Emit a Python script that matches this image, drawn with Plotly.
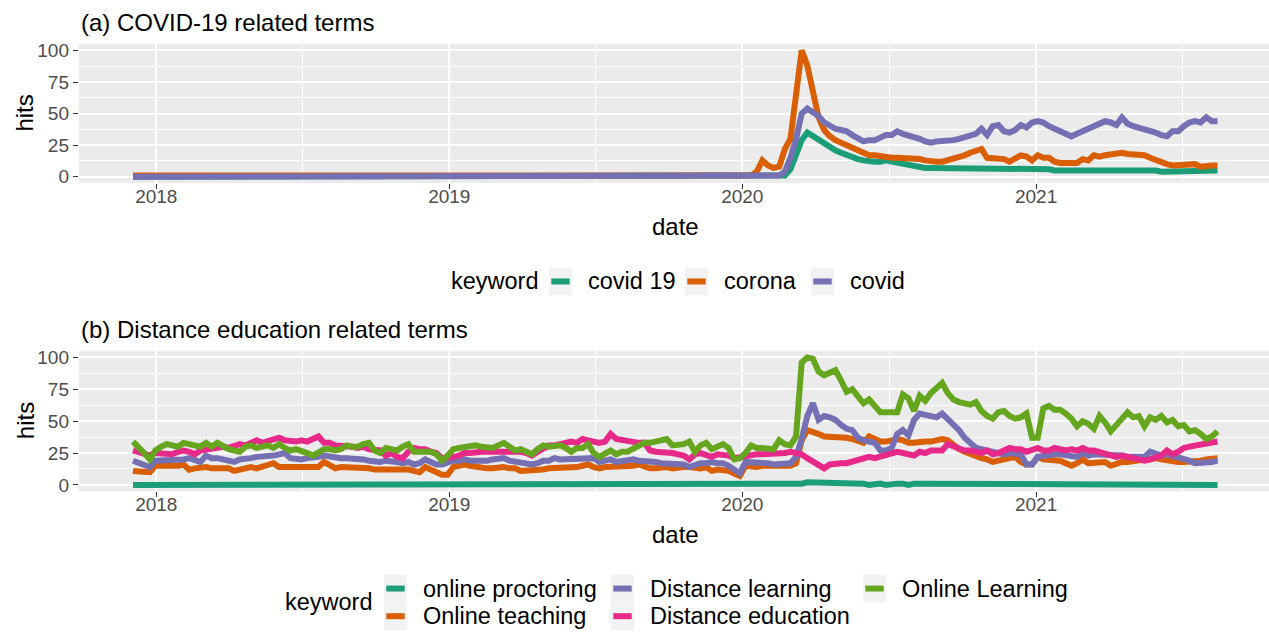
import pandas as pd
import plotly.graph_objects as go

W, H = 1269, 635

# Weekly observation dates (Sundays)
weeks = pd.date_range("2017-12-03", "2021-08-15", freq="7D")

# ---- (a) COVID-19 related terms ----
covid19 = [
    0, 0, 0, 0, 0, 0, 0, 0, 0, 0,
    0, 0, 0, 0, 0, 0, 0, 0, 0, 0,
    0, 0, 0, 0, 0, 0, 0, 0, 0, 0,
    0, 0, 0, 0, 0, 0, 0, 0, 0, 0,
    0, 0, 0, 0, 0, 0, 0, 0, 0, 0,
    0, 0, 0, 0, 0, 0, 0, 0, 0, 0,
    0, 0, 0, 0, 0, 0, 0, 0, 0, 0,
    0, 0, 0, 0, 0, 0, 0, 0, 0, 0,
    0, 0, 0, 0, 0, 0, 0, 0, 0, 0,
    0, 0, 0, 0, 0, 0, 0, 0, 0, 0,
    0, 0, 0, 0, 0, 0, 0, 0, 0, 0,
    0, 0, 0, 0, 0, 0, 1, 6, 18, 29,
    35, 32, 29, 26, 23, 21, 19, 17, 16, 14,
    13, 12, 12, 12, 13, 12, 11, 10, 9, 8,
    8, 7, 7, 7, 7, 7, 7, 7, 7, 7,
    7, 7, 7, 7, 6, 6, 6, 6, 6, 7,
    7, 7, 6, 6, 5, 5, 5, 5, 5, 5,
    5, 6, 6, 6, 6, 6, 6, 6, 6, 6,
    6, 5, 5, 4, 4, 4, 5, 5, 5, 5,
    5, 5, 5, 5,
]
corona = [
    1, 1, 0, 0, 0, 0, 0, 0, 0, 0,
    0, 0, 0, 0, 0, 0, 0, 1, 1, 1,
    1, 1, 1, 1, 1, 1, 1, 1, 1, 1,
    1, 1, 1, 1, 1, 1, 1, 0, 0, 1,
    1, 1, 1, 1, 1, 1, 1, 1, 1, 1,
    1, 1, 1, 1, 0, 0, 0, 1, 1, 1,
    1, 1, 1, 1, 1, 1, 1, 1, 1, 1,
    1, 1, 0, 0, 1, 1, 1, 1, 1, 1,
    1, 1, 1, 1, 1, 1, 1, 1, 0, 0,
    0, 0, 0, 0, 0, 0, 0, 0, 0, 1,
    1, 1, 1, 1, 1, 1, 1, 1, 0, 1,
    1, 4, 13, 9, 7, 8, 22, 30, 68, 100,
    88, 65, 47, 37, 32, 29, 27, 24, 22, 20,
    18, 17, 17, 16, 16, 15, 15, 15, 14, 14,
    14, 13, 12, 12, 12, 13, 14, 15, 17, 19,
    20, 22, 15, 15, 14, 14, 12, 15, 17, 16,
    13, 17, 15, 15, 12, 11, 11, 11, 11, 14,
    13, 17, 16, 17, 18, 19, 19, 18, 18, 17,
    17, 15, 13, 11, 10, 9, 9, 10, 10, 10,
    8, 9, 9, 9,
]
covid = [
    0, 0, 0, 0, 0, 0, 0, 0, 0, 0,
    0, 0, 0, 0, 0, 0, 0, 0, 0, 0,
    0, 0, 0, 0, 0, 0, 0, 0, 0, 0,
    0, 0, 0, 0, 0, 0, 0, 0, 0, 0,
    0, 0, 0, 0, 0, 0, 0, 0, 0, 0,
    0, 0, 0, 0, 0, 0, 0, 0, 0, 0,
    0, 0, 0, 0, 0, 0, 0, 0, 0, 0,
    0, 0, 0, 0, 0, 0, 0, 0, 0, 0,
    0, 0, 0, 0, 0, 0, 0, 0, 0, 0,
    0, 0, 0, 0, 0, 0, 0, 0, 0, 0,
    0, 0, 0, 0, 0, 0, 0, 0, 0, 0,
    0, 0, 0, 0, 0, 1, 4, 15, 30, 50,
    54, 51, 48, 43, 40, 38, 37, 36, 33, 31,
    28, 29, 29, 31, 33, 33, 36, 34, 33, 32,
    30, 28, 27, 28, 28, 28, 29, 30, 31, 32,
    34, 38, 33, 40, 41, 36, 35, 37, 41, 39,
    43, 44, 43, 40, 38, 36, 33, 32, 34, 36,
    37, 39, 42, 44, 43, 41, 47, 42, 40, 39,
    38, 37, 35, 33, 32, 36, 36, 40, 43, 44,
    43, 47, 44, 44,
]

# ---- (b) Distance education related terms ----
online_proctoring = [
    0, 0, 0, 0, 0, 0, 0, 0, 0, 0,
    0, 0, 0, 0, 0, 0, 0, 0, 0, 0,
    0, 0, 0, 0, 0, 0, 0, 0, 0, 0,
    0, 0, 0, 0, 0, 0, 0, 0, 0, 0,
    0, 0, 0, 0, 0, 0, 0, 0, 0, 0,
    0, 0, 0, 0, 0, 0, 0, 0, 0, 0,
    0, 0, 0, 0, 0, 0, 0, 0, 0, 0,
    0, 0, 0, 0, 0, 0, 0, 0, 0, 0,
    0, 0, 0, 0, 0, 0, 0, 0, 0, 0,
    0, 0, 0, 0, 0, 0, 0, 0, 0, 0,
    0, 0, 0, 0, 0, 0, 0, 0, 0, 0,
    0, 0, 0, 0, 0, 0, 0, 0, 1, 1,
    2, 2, 2, 1, 2, 2, 1, 1, 1, 1,
    1, 0, 1, 1, 0, 1, 1, 1, 0, 1,
    1, 0, 1, 1, 0, 1, 1, 1, 0, 1,
    1, 0, 1, 1, 0, 1, 0, 1, 0, 1,
    0, 1, 1, 0, 0, 0, 1, 1, 0, 1,
    1, 0, 0, 1, 0, 0, 1, 1, 0, 1,
    1, 0, 1, 0, 1, 0, 0, 0, 0, 0,
    0, 0, 0, 0,
]
online_teaching = [
    11, 11, 10, 10, 15, 15, 14, 14, 15, 16,
    12, 13, 14, 14, 13, 13, 13, 13, 11, 12,
    14, 14, 13, 14, 16, 17, 14, 14, 13, 13,
    13, 13, 14, 14, 18, 16, 13, 14, 14, 14,
    13, 13, 13, 12, 12, 12, 13, 12, 12, 12,
    11, 10, 14, 12, 11, 8, 8, 14, 15, 16,
    15, 14, 14, 13, 13, 14, 14, 13, 13, 11,
    11, 12, 12, 12, 13, 13, 13, 14, 14, 14,
    15, 16, 14, 13, 14, 14, 14, 14, 14, 15,
    16, 14, 13, 13, 14, 14, 13, 14, 14, 14,
    13, 13, 14, 11, 12, 12, 11, 9, 7, 15,
    14, 14, 15, 15, 15, 15, 15, 15, 17, 35,
    43, 42, 40, 38, 38, 38, 38, 37, 36, 35,
    33, 38, 36, 34, 34, 35, 36, 35, 33, 33,
    34, 34, 34, 35, 36, 35, 31, 28, 26, 24,
    23, 21, 20, 18, 19, 20, 21, 22, 18, 16,
    16, 22, 20, 20, 19, 19, 17, 15, 17, 20,
    17, 17, 18, 18, 15, 17, 18, 18, 19, 19,
    20, 20, 21, 20, 19, 18, 18, 18, 18, 18,
    19, 20, 20, 21,
]
distance_learning = [
    19, 17, 15, 14, 19, 19, 19, 20, 20, 20,
    21, 20, 18, 23, 21, 21, 20, 19, 18, 20,
    20, 21, 22, 22, 23, 23, 24, 25, 21, 20,
    20, 21, 21, 22, 23, 22, 21, 21, 21, 21,
    20, 20, 19, 18, 18, 19, 19, 18, 17, 18,
    16, 17, 20, 18, 16, 16, 18, 19, 19, 20,
    19, 19, 18, 19, 20, 20, 21, 19, 18, 18,
    17, 16, 17, 19, 19, 21, 20, 20, 21, 21,
    21, 21, 21, 18, 19, 20, 18, 19, 20, 20,
    19, 19, 18, 18, 17, 17, 16, 16, 16, 14,
    16, 17, 17, 18, 17, 17, 15, 12, 9, 18,
    18, 17, 17, 17, 16, 16, 16, 17, 22, 36,
    54, 64, 51, 54, 53, 51, 47, 44, 43, 37,
    35, 34, 33, 27, 27, 29, 40, 43, 39, 51,
    56, 55, 54, 53, 56, 52, 47, 43, 37, 33,
    29, 28, 27, 27, 25, 24, 25, 24, 24, 16,
    16, 22, 23, 24, 24, 24, 23, 22, 22, 25,
    23, 24, 24, 23, 23, 24, 23, 22, 22, 22,
    22, 26, 24, 23, 24, 23, 22, 21, 19, 17,
    17, 18, 18, 19,
]
distance_education = [
    27, 26, 25, 23, 25, 25, 25, 24, 26, 27,
    26, 24, 27, 28, 28, 29, 30, 29, 31, 32,
    31, 33, 35, 33, 34, 36, 37, 35, 34, 34,
    35, 34, 36, 38, 33, 33, 31, 31, 31, 30,
    29, 30, 28, 28, 27, 23, 25, 22, 21, 26,
    29, 28, 28, 26, 25, 21, 21, 22, 23, 25,
    25, 26, 26, 26, 26, 27, 26, 26, 27, 26,
    25, 23, 26, 28, 31, 31, 32, 32, 34, 33,
    36, 35, 34, 33, 34, 40, 36, 35, 34, 34,
    33, 33, 27, 26, 26, 26, 25, 24, 23, 20,
    24, 25, 24, 22, 24, 24, 23, 21, 22, 23,
    24, 24, 24, 24, 25, 25, 25, 26, 25, 24,
    21, 18, 15, 13, 16, 17, 17, 17, 18, 19,
    21, 22, 21, 22, 24, 24, 26, 25, 24, 23,
    26, 25, 27, 27, 27, 32, 30, 29, 27, 27,
    26, 25, 27, 24, 25, 27, 29, 28, 28, 26,
    27, 29, 27, 27, 29, 28, 27, 28, 27, 29,
    27, 27, 26, 25, 23, 22, 23, 22, 21, 20,
    19, 20, 21, 23, 27, 24, 26, 29, 30, 31,
    32, 32, 33, 34,
]
online_learning = [
    34, 30, 25, 20, 27, 30, 32, 31, 30, 33,
    32, 31, 30, 33, 30, 33, 30, 28, 27, 26,
    30, 31, 29, 30, 31, 29, 32, 29, 27, 28,
    27, 25, 23, 26, 28, 28, 27, 28, 31, 30,
    30, 32, 33, 27, 25, 29, 28, 27, 30, 32,
    26, 26, 27, 26, 24, 19, 23, 28, 29, 30,
    30, 31, 30, 30, 29, 31, 33, 30, 27, 28,
    26, 24, 28, 31, 30, 30, 31, 29, 26, 29,
    29, 32, 25, 22, 25, 27, 24, 26, 26, 28,
    30, 33, 33, 34, 34, 36, 31, 31, 32, 34,
    26, 31, 33, 28, 30, 32, 29, 20, 21, 25,
    31, 29, 29, 29, 28, 35, 32, 31, 38, 96,
    100, 99, 89, 86, 88, 90, 82, 73, 75, 70,
    64, 67, 62, 57, 57, 57, 57, 71, 68, 58,
    70, 66, 72, 76, 80, 72, 67, 65, 64, 63,
    65, 58, 54, 52, 57, 58, 54, 52, 53, 56,
    37, 37, 60, 62, 59, 59, 56, 52, 46, 50,
    48, 44, 54, 49, 42, 47, 52, 57, 53, 54,
    46, 53, 51, 54, 49, 51, 46, 47, 42, 43,
    40, 36, 38, 42,
]

year_ticks = ["2018-01-01", "2019-01-01", "2020-01-01", "2021-01-01"]
year_labels = ["2018", "2019", "2020", "2021"]
mid_year = ["2018-07-02", "2019-07-02", "2020-07-02", "2021-07-02"]
hit_ticks = [0, 25, 50, 75, 100]
hit_minor = [12.5, 37.5, 62.5, 87.5]

# Dark2 palette
TEAL, ORANGE, PURPLE, PINK, GREEN = "#1B9E77", "#D95F02", "#7570B3", "#E7298A", "#66A61E"

panel_a = [("covid 19", covid19, TEAL), ("corona", corona, ORANGE), ("covid", covid, PURPLE)]
panel_b = [
    ("online proctoring", online_proctoring, TEAL),
    ("Online teaching", online_teaching, ORANGE),
    ("Distance learning", distance_learning, PURPLE),
    ("Distance education", distance_education, PINK),
    ("Online Learning", online_learning, GREEN),
]

FONT = "Liberation Sans, Arial, Helvetica, sans-serif"
LINE_W = 6


def fx(px):
    return px / W


def fy(py):
    return 1 - py / H


fig = go.Figure()
for name, vals, color in panel_a:
    fig.add_trace(go.Scatter(x=weeks, y=vals, name=name, mode="lines",
                             line=dict(color=color, width=LINE_W),
                             xaxis="x", yaxis="y", showlegend=False))
for name, vals, color in panel_b:
    fig.add_trace(go.Scatter(x=weeks, y=vals, name=name, mode="lines",
                             line=dict(color=color, width=LINE_W),
                             xaxis="x2", yaxis="y2", showlegend=False))

# panel geometry (pixels)
PANEL_L = 78.8
A_TOP, A_BOT = 40.6, 181.4
B_TOP, B_BOT = 351.5, 493.5
X_RANGE = ["2017-09-26 12:00", "2021-10-18 03:30"]

tick_font = dict(family=FONT, size=19, color="#4D4D4D")


def x_axis(anchor):
    return dict(
        type="date", range=X_RANGE, domain=[fx(PANEL_L), 1], anchor=anchor,
        tickvals=year_ticks, ticktext=year_labels, ticks="outside",
        ticklen=5, tickwidth=1.4, tickcolor="#333333", tickfont=tick_font,
        ticklabelstandoff=-9,
        showgrid=True, gridcolor="white", gridwidth=2,
        minor=dict(tickvals=mid_year, showgrid=True, gridcolor="white",
                   gridwidth=1, ticks=""),
        zeroline=False, showline=False,
    )


def y_axis(anchor, top, bot):
    return dict(
        range=[-5, 105], domain=[fy(bot), fy(top)], anchor=anchor,
        tickvals=hit_ticks, ticks="outside", ticklen=5, tickwidth=1.4,
        tickcolor="#333333", tickfont=tick_font,
        showgrid=True, gridcolor="white", gridwidth=2,
        minor=dict(tickvals=hit_minor, showgrid=True, gridcolor="white",
                   gridwidth=1, ticks=""),
        zeroline=False, showline=False,
    )


annotations = []
shapes = []


def text(s, x, y, size=24, xanchor="left", angle=0, color="black"):
    annotations.append(dict(
        text=s, x=fx(x), y=fy(y), xref="paper", yref="paper",
        xanchor=xanchor, yanchor="middle", showarrow=False, textangle=angle,
        font=dict(family=FONT, size=size, color=color),
    ))


# titles and axis titles
text("(a) COVID-19 related terms", 79, 19)
text("(b) Distance education related terms", 79, 330)
for top, bot, date_y in [(A_TOP, A_BOT, 225), (B_TOP, B_BOT, 537)]:
    text("hits", 25, (top + bot) / 2, xanchor="center", angle=-90)
    text("date", (PANEL_L + 1271.7) / 2, date_y, xanchor="center")

KEY_W, KEY_H = 23, 28


def legend_key(x, yc, color, label):
    shapes.append(dict(type="rect", xref="paper", yref="paper",
                       x0=fx(x), x1=fx(x + KEY_W), y0=fy(yc + KEY_H / 2), y1=fy(yc - KEY_H / 2),
                       fillcolor="#F2F2F2", line=dict(width=0), layer="above"))
    shapes.append(dict(type="line", xref="paper", yref="paper",
                       x0=fx(x + 0.1 * KEY_W), x1=fx(x + 0.9 * KEY_W), y0=fy(yc), y1=fy(yc),
                       line=dict(color=color, width=LINE_W), layer="above"))
    text(label, x + 37, yc, size=23.5)


# legend for (a)
text("keyword", 449, 281, size=23.5)
for kx, (name, _, color) in zip([549, 685, 811], panel_a):
    legend_key(kx, 281, color, name)

# legend for (b): three columns, filled column-wise
text("keyword", 283, 606, size=23.5)
cols = [384, 384, 611, 611, 863]
rows = [592, 620, 592, 620, 592]
for kx, ky, (name, _, color) in zip(cols, rows, panel_b):
    legend_key(kx, ky, color, name)

fig.update_layout(
    width=W, height=H, autosize=False,
    margin=dict(l=0, r=0, t=0, b=0),
    paper_bgcolor="white", plot_bgcolor="#EBEBEB",
    xaxis=x_axis("y"), yaxis=y_axis("x", A_TOP, A_BOT),
    xaxis2=x_axis("y2"), yaxis2=y_axis("x2", B_TOP, B_BOT),
    annotations=annotations, shapes=shapes,
    showlegend=False, font=dict(family=FONT),
)

fig.write_html("out.html")
